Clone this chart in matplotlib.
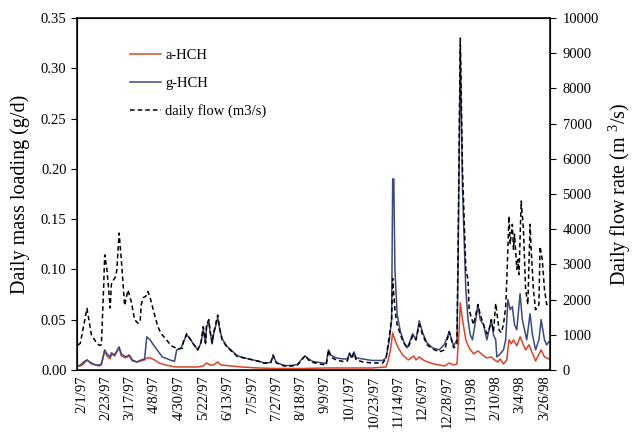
"""HCH daily mass loading vs daily river flow, Feb 1997 - Mar 1998."""

import matplotlib
matplotlib.use("Agg")
import matplotlib.pyplot as plt

plt.rcParams["font.family"] = ["Liberation Serif", "DejaVu Serif"]
plt.rcParams["mathtext.fontset"] = "custom"
plt.rcParams["mathtext.rm"] = "Liberation Serif"

# x = days since 2/1/97
TICK_DAYS = list(range(0, 419, 22))
TICK_LABELS = ["2/1/97", "2/23/97", "3/17/97", "4/8/97", "4/30/97", "5/22/97",
               "6/13/97", "7/5/97", "7/27/97", "8/18/97", "9/9/97", "10/1/97",
               "10/23/97", "11/14/97", "12/6/97", "12/28/97", "1/19/98",
               "2/10/98", "3/4/98", "3/26/98"]

# daily flow (m3/s)
FLOW_DAYS = [-3, -1, 5, 9, 13, 16, 18, 20, 21, 23, 26, 27, 29, 31, 32, 34, 36, 38,
             39, 42, 45, 48, 51, 53, 54, 56, 58, 60, 62, 66, 69, 72, 76, 81, 87, 91,
             92, 95, 98, 101, 105, 108, 110, 112, 113, 115, 116, 118, 119, 123, 125,
             127, 131, 136, 141, 147, 155, 161, 165, 171, 173, 176, 183, 190, 195,
             199, 202, 205, 209, 215, 221, 223, 225, 230, 236, 240, 242, 244, 246,
             248, 254, 262, 272, 275, 278, 280, 281, 283, 285, 288, 291, 294, 296,
             299, 302, 305, 308, 312, 317, 323, 328, 332, 336, 339, 340, 342, 344,
             347, 349, 350, 352, 354, 356, 358, 360, 363, 366, 368, 370, 372, 374,
             377, 379, 381, 383, 384, 386, 387, 389, 390, 391, 393, 394, 395, 397,
             399, 401, 403, 405, 406, 408, 410, 413, 414, 416, 418, 420, 422]
FLOW = [710, 760, 1750, 1000, 800, 700, 715, 2300, 3270, 2860, 1760, 2430, 2560,
        2660, 2860, 3890, 3140, 2270, 1830, 2270, 1940, 1430, 1330, 1370, 1860, 2060,
        2090, 2230, 2060, 1570, 1230, 1030, 890, 690, 600, 615, 800, 1030, 890, 740,
        570, 800, 1230, 770, 1290, 1430, 1140, 770, 1000, 1560, 1140, 860, 670, 515,
        380, 343, 285, 237, 190, 215, 430, 200, 115, 115, 143, 285, 415, 285, 215,
        170, 143, 570, 370, 285, 243, 257, 457, 315, 486, 285, 230, 200, 200, 330,
        1000, 1430, 2600, 1710, 1290, 1000, 770, 630, 715, 970, 860, 1290, 1000, 715,
        600, 515, 570, 1090, 630, 715, 3430, 9430, 5710, 2860, 2570, 1710, 1490,
        1290, 1570, 1860, 1570, 1290, 1030, 1140, 1430, 1090, 1890, 1140, 1060, 1290,
        1800, 2570, 4370, 3570, 4140, 3430, 3860, 2860, 3140, 2710, 4800, 4000, 2290,
        1860, 4140, 3430, 2290, 1710, 1860, 3510, 3140, 2290, 1860, 1940]

# g-HCH daily loading (g/d)
G_DAYS = [-3, -1, 2, 5, 9, 13, 16, 18, 21, 23, 26, 27, 30, 34, 36, 40, 43, 46, 50,
          54, 57, 59, 62, 65, 69, 73, 80, 84, 86, 90, 93, 95, 98, 101, 105, 108, 110,
          112, 113, 115, 116, 118, 119, 123, 125, 127, 131, 136, 141, 147, 155, 161,
          165, 171, 173, 176, 183, 190, 195, 199, 202, 205, 209, 215, 221, 223, 225,
          230, 236, 240, 242, 244, 246, 248, 254, 262, 272, 275, 278, 280, 281, 282,
          283, 285, 288, 291, 294, 296, 299, 302, 305, 308, 312, 317, 323, 328, 332,
          336, 339, 340, 342, 344, 347, 349, 351, 353, 356, 358, 360, 363, 366, 368,
          370, 372, 374, 375, 378, 381, 383, 385, 387, 389, 391, 393, 396, 398, 400,
          402, 405, 407, 410, 413, 415, 418, 420, 422]
G_HCH = [0.004, 0.005, 0.008, 0.010, 0.007, 0.005, 0.005, 0.006, 0.020, 0.016, 0.013,
         0.017, 0.015, 0.023, 0.016, 0.013, 0.015, 0.010, 0.008, 0.010, 0.011, 0.033,
         0.030, 0.025, 0.019, 0.013, 0.010, 0.0085, 0.020, 0.022, 0.030, 0.035, 0.031,
         0.026, 0.020, 0.027, 0.041, 0.026, 0.043, 0.049, 0.039, 0.026, 0.034, 0.052,
         0.040, 0.031, 0.024, 0.019, 0.014, 0.012, 0.010, 0.0085, 0.007, 0.0075, 0.014,
         0.0075, 0.0045, 0.0045, 0.0055, 0.011, 0.014, 0.011, 0.0085, 0.0075, 0.0065,
         0.020, 0.015, 0.012, 0.011, 0.011, 0.017, 0.013, 0.018, 0.012, 0.011, 0.0095,
         0.0095, 0.012, 0.030, 0.050, 0.190, 0.190, 0.100, 0.055, 0.038, 0.028, 0.022,
         0.027, 0.036, 0.030, 0.049, 0.037, 0.027, 0.022, 0.020, 0.026, 0.038, 0.024,
         0.030, 0.100, 0.320, 0.180, 0.080, 0.050, 0.035, 0.030, 0.050, 0.065, 0.050,
         0.045, 0.030, 0.040, 0.050, 0.035, 0.030, 0.013, 0.016, 0.020, 0.030, 0.070,
         0.060, 0.063, 0.045, 0.040, 0.076, 0.050, 0.040, 0.030, 0.056, 0.036, 0.020,
         0.030, 0.050, 0.030, 0.025, 0.028]

# a-HCH daily loading (g/d)
A_DAYS = [-3, -1, 2, 5, 9, 16, 18, 21, 23, 26, 27, 30, 34, 36, 40, 43, 46, 50, 54,
          57, 59, 62, 66, 70, 76, 85, 95, 105, 110, 113, 116, 119, 123, 126, 135, 145,
          160, 175, 200, 220, 240, 262, 275, 277, 279, 281, 283, 286, 290, 295, 300,
          302, 305, 310, 318, 328, 332, 336, 339, 341, 342, 344, 347, 350, 354, 358,
          362, 366, 370, 373, 376, 378, 381, 384, 386, 388, 390, 393, 396, 399, 401,
          404, 407, 410, 415, 418, 422]
A_HCH = [0.004, 0.004, 0.006, 0.010, 0.006, 0.004, 0.005, 0.019, 0.014, 0.011, 0.016,
         0.014, 0.022, 0.014, 0.012, 0.014, 0.009, 0.008, 0.009, 0.010, 0.012, 0.012,
         0.010, 0.007, 0.005, 0.003, 0.003, 0.003, 0.004, 0.007, 0.005, 0.005, 0.008,
         0.005, 0.004, 0.003, 0.002, 0.0015, 0.0015, 0.002, 0.002, 0.002, 0.003, 0.010,
         0.020, 0.037, 0.030, 0.022, 0.015, 0.010, 0.014, 0.010, 0.013, 0.009, 0.006,
         0.004, 0.007, 0.005, 0.006, 0.040, 0.067, 0.050, 0.030, 0.022, 0.016, 0.019,
         0.015, 0.012, 0.013, 0.010, 0.008, 0.011, 0.006, 0.010, 0.030, 0.026, 0.030,
         0.024, 0.033, 0.025, 0.020, 0.025, 0.017, 0.009, 0.020, 0.013, 0.011]

RED = "#d9452b"
BLUE = "#3b4a7e"


def main() -> None:
    fig = plt.figure(figsize=(6.33, 4.32), dpi=100)
    ax = fig.add_axes([77 / 633, 62 / 432, 473 / 633, 352 / 432])
    ax2 = ax.twinx()

    l1, = ax.plot(A_DAYS, A_HCH, color=RED, linewidth=1.1, label="a-HCH")
    l2, = ax.plot(G_DAYS, G_HCH, color=BLUE, linewidth=1.1, label="g-HCH")
    l3, = ax2.plot(FLOW_DAYS, FLOW, color="black", linewidth=1.1,
                   linestyle=(0, (3, 2)), label="daily flow (m3/s)")

    ax.set_xlim(-4, 423)
    ax.set_ylim(0, 0.35)
    ax2.set_ylim(0, 10000)
    ax.set_yticks([0, 0.05, 0.10, 0.15, 0.20, 0.25, 0.30, 0.35])
    ax.set_yticklabels(["0.00", "0.05", "0.10", "0.15", "0.20", "0.25", "0.30", "0.35"])
    ax2.set_yticks(range(0, 10001, 1000))

    ax.set_xticks(TICK_DAYS)
    ax.set_xticklabels(TICK_LABELS, rotation=90, fontsize=10.5)
    ax.tick_params(axis="x", length=0, pad=4)
    ax.tick_params(axis="y", direction="out", length=4, labelsize=10.5)
    ax2.tick_params(axis="y", direction="out", length=4, pad=5, labelsize=10.5)
    for spine in ax.spines.values():
        spine.set_linewidth(1.1)

    ax.set_ylabel("Daily mass loading (g/d)", fontsize=14.5, labelpad=8)
    ax2.set_ylabel("Daily flow rate (m $^{3}$/s)", fontsize=14.5, labelpad=5)

    ax.legend([l1, l2, l3], [l1.get_label(), l2.get_label(), l3.get_label()],
              loc="upper left", bbox_to_anchor=(0.085, 0.95), frameon=False,
              fontsize=10.5, handlelength=2.1, handletextpad=0.3, labelspacing=1.0)

    fig.savefig("out.png", dpi=100)
    plt.close(fig)


if __name__ == "__main__":
    main()
